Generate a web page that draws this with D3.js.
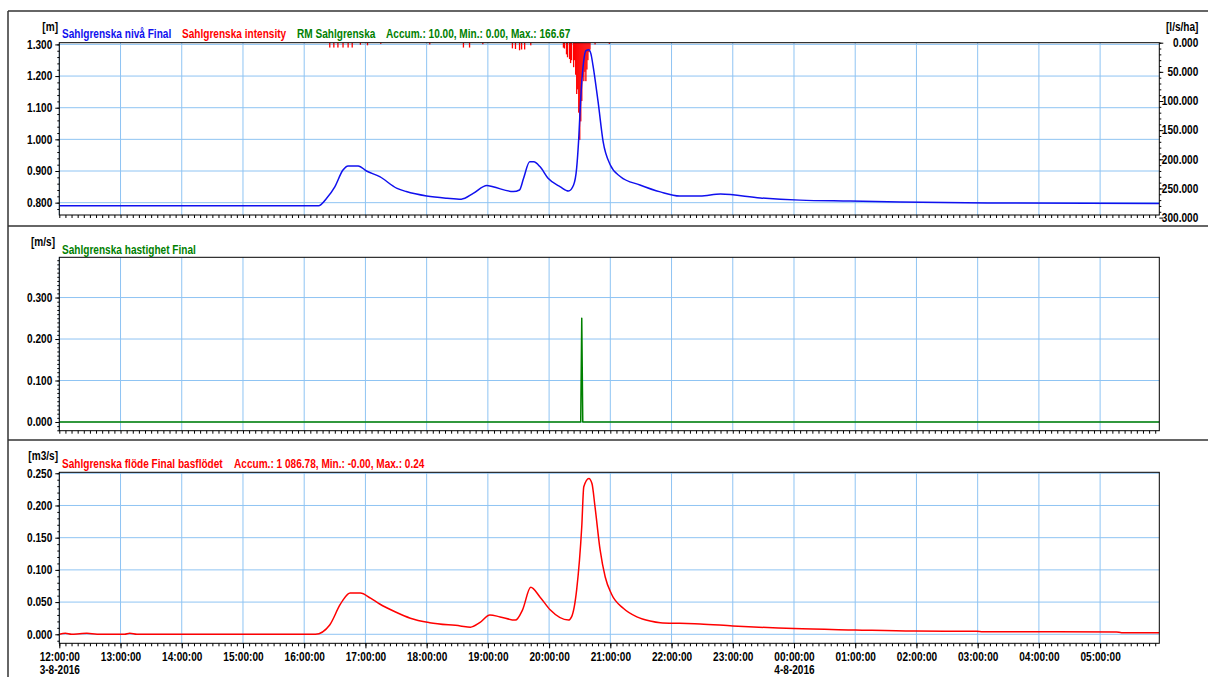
<!DOCTYPE html>
<html>
<head>
<meta charset="utf-8">
<script src="https://cdn.jsdelivr.net/npm/d3@7"></script>
<style>
body { margin: 0; background: #fff; }
text { font-family: "Liberation Sans Narrow", "Arial Narrow", "Liberation Sans", Arial, sans-serif; font-weight: bold; font-size: 12px; }
</style>
</head>
<body>
<svg id="svg" width="1208" height="677"></svg>
<script>
// times are HH:MM, 12:00 on 3-8-2016 up to about 06:00 on 4-8-2016

// Sahlgrenska nivå Final [m]
var levelTime = ["12:00","16:14","16:22","16:30","16:38","16:43","16:53","17:01","17:14","17:31","17:40","18:00",
    "18:20","18:34","18:46","18:59","19:05","19:25","19:31","19:35","19:41","19:45","19:51","19:59","20:11","20:19",
    "20:24","20:27","20:29","20:31","20:34","20:36","20:39","20:41","20:43","20:48","20:53","21:00","21:10","21:29",
    "21:49","22:08","22:28","22:48","23:27","00:06","00:55","01:44","03:22","05:58"];
var levelValue = [0.790,0.790,0.814,0.850,0.903,0.916,0.916,0.900,0.882,0.845,0.835,0.821,
    0.814,0.811,0.830,0.854,0.850,0.835,0.840,0.877,0.929,0.929,0.914,0.877,0.850,0.837,
    0.856,0.909,1.000,1.130,1.250,1.280,1.283,1.270,1.234,1.119,0.992,0.919,0.882,0.856,
    0.834,0.821,0.821,0.827,0.815,0.808,0.805,0.802,0.799,0.797];

// Sahlgrenska intensity [l/s/ha]
var rainTime = ["16:25","16:29","16:33","16:38","16:43","16:47","16:55","17:02","17:15","18:03","18:36","18:42","18:55",
    "19:24","19:27","19:31","19:33","19:36","19:42",
    "20:14","20:15","20:17","20:18","20:20","20:21","20:22","20:24","20:25","20:26","20:27","20:28","20:29","20:30",
    "20:31","20:32","20:33","20:34","20:35","20:36","20:37","20:38","20:39","20:40","20:45","20:59"];
var rainValue = [8.33,8.33,8.33,8.33,8.33,8.33,3.5,4.5,2,3,8.33,8.33,2.6,
    9.7,10.8,13,11.6,11.6,4.5,
    8.5,10,20,25,28,35,30,42,30,55,88,80,120,166.67,
    135,100,59,66,50,66,46,30,16,12,3,2];

// Sahlgrenska hastighet Final [m/s]
var speedTime = ["12:00","20:31","20:32","20:33","05:58"];
var speedValue = [0, 0, 0.25, 0, 0];

// Sahlgrenska flöde Final basflödet [m3/s]
var flowTime = ["12:00","12:06","12:12","12:20","12:27","12:37","13:04","13:09","13:16","16:11","16:25","16:35","16:38",
    "16:45","16:55","17:05","17:14","17:29","17:44","18:03","18:33","18:43","18:52","19:02","19:12","19:27","19:34",
    "19:42","19:51","20:01","20:19","20:22","20:27","20:32","20:34","20:39","20:42","20:45","20:50","20:55","21:01",
    "21:13","21:26","21:39","21:49","22:08","22:28","23:00","00:00","01:00","01:57","02:59","03:05","05:16","05:21","05:58"];
var flowValue = [0,0.0015,0,0.0008,0.0015,0,0,0.0015,0,0,0.0145,0.0455,0.053,
    0.064,0.064,0.056,0.047,0.035,0.025,0.018,0.013,0.011,0.018,0.030,0.027,0.022,0.038,
    0.073,0.058,0.038,0.022,0.027,0.069,0.167,0.229,0.242,0.234,0.198,0.131,0.089,0.063,
    0.040,0.027,0.0206,0.018,0.017,0.016,0.013,0.0088,0.0067,0.005,0.0047,0.004,0.0036,0.0025,0.0025];

var levelTicks = [0.8, 0.9, 1.0, 1.1, 1.2, 1.3];
var rainTicks = [0, 50, 100, 150, 200, 250, 300];
var speedTicks = [0, 0.1, 0.2, 0.3];
var flowTicks = [0, 0.05, 0.1, 0.15, 0.2, 0.25];

//////////////////////////////////////////////////////////////////////////////

function parseT(s)
{
    var p = s.split(":");
    var h = +p[0], m = +p[1];
    var day = h < 12 ? 4 : 3;
    return new Date(2016, 7, day, h, m);
}

function zip(ts, vs)
{
    var out = [];
    for (var i=0; i<ts.length; ++i) {
        out.push({t: parseT(ts[i]), v: vs[i]});
    }
    return out;
}

function steps(a, b, s)
{
    var out = [];
    for (var v=a; v<=b+1e-9; v+=s) out.push(+v.toFixed(4));
    return out;
}

var gridColor = "#8fc4f3";
var svg = d3.select("#svg");
var left = 59.3, right = 1159.3;

var x = d3.scaleTime()
    .domain([parseT("12:00"), parseT("05:58")])
    .range([left, right]);

var hours = d3.timeHour.range(parseT("12:00"), parseT("05:58"));

// frame lines
var frame = svg.append("g").attr("stroke", "#333").attr("stroke-width", 1.5);
frame.append("line").attr("x1", 8).attr("x2", 1208).attr("y1", 11).attr("y2", 11);
frame.append("line").attr("x1", 8).attr("x2", 8).attr("y1", 11).attr("y2", 677);
frame.append("line").attr("x1", 8).attr("x2", 1208).attr("y1", 226).attr("y2", 226);
frame.append("line").attr("x1", 8).attr("x2", 1208).attr("y1", 440).attr("y2", 440);

function panel(top, bottom, dom, ticks, minorStep, id)
{
    var y = d3.scaleLinear().domain(dom).range([bottom, top]);
    var g = svg.append("g");

    svg.append("clipPath").attr("id", id).append("rect")
        .attr("x", left).attr("y", top).attr("width", right - left).attr("height", bottom - top);

    g.selectAll(".hg").data(ticks).enter().append("line")
        .attr("x1", left).attr("x2", right)
        .attr("y1", function(d) { return y(d); }).attr("y2", function(d) { return y(d); })
        .attr("stroke", gridColor).attr("stroke-width", 1);
    g.selectAll(".vg").data(hours).enter().append("line")
        .attr("x1", function(d) { return x(d); }).attr("x2", function(d) { return x(d); })
        .attr("y1", top).attr("y2", bottom)
        .attr("stroke", gridColor).attr("stroke-width", 1);

    var minor = steps(Math.ceil(dom[0] / minorStep) * minorStep, dom[1], minorStep);
    g.append("g").attr("transform", "translate(" + left + ",0)")
        .call(d3.axisLeft(y).tickValues(minor).tickSize(2).tickFormat(""))
        .call(function(s) { s.select(".domain").remove(); });
    g.append("g").attr("transform", "translate(" + left + ",0)")
        .call(d3.axisLeft(y).tickValues(ticks).tickSize(4).tickSizeOuter(0).tickFormat(d3.format(".3f")))
        .call(function(s) { s.select(".domain").remove(); s.selectAll("text").attr("fill", "#000"); });

    g.append("g").attr("transform", "translate(0," + bottom + ")")
        .call(d3.axisBottom(x).ticks(d3.timeMinute.every(6)).tickSize(3).tickFormat(""))
        .call(function(s) { s.select(".domain").remove(); });

    return {y: y, g: g, top: top, bottom: bottom};
}

function border(p)
{
    svg.append("rect").attr("x", left).attr("y", p.top)
        .attr("width", right - left).attr("height", p.bottom - p.top)
        .attr("fill", "none").attr("stroke", "#000").attr("stroke-width", 1);
}

function drawLine(p, data, color, clip, curve)
{
    var line = d3.line()
        .curve(curve || d3.curveLinear)
        .x(function(d) { return x(d.t); })
        .y(function(d) { return p.y(d.v); });
    svg.append("path").datum(data)
        .attr("clip-path", "url(#" + clip + ")")
        .attr("d", line).attr("fill", "none")
        .attr("stroke", color).attr("stroke-width", 1.5)
        .attr("stroke-linejoin", "round");
}

function label(xp, yp, txt, color, size, anchor)
{
    svg.append("text").attr("x", xp).attr("y", yp)
        .attr("fill", color).attr("font-size", size || 12)
        .attr("text-anchor", anchor || "start").text(txt);
}

// ---- top panel: level + rain intensity
var p1 = panel(42.7, 215, [0.761, 1.3054], levelTicks, 0.02, "c1");
var yRain = d3.scaleLinear().domain([0, 300]).range([42.7, 217.6]);

var rain = zip(rainTime, rainValue);
svg.append("g").attr("clip-path", "url(#c1)").selectAll("rect").data(rain).enter().append("rect")
    .attr("x", function(d) { return x(d.t) - 0.6; })
    .attr("y", yRain(0))
    .attr("width", 1.3)
    .attr("height", function(d) { return yRain(d.v) - yRain(0); })
    .attr("fill", "#ff0000");

drawLine(p1, zip(levelTime, levelValue), "#1010ee", "c1", d3.curveMonotoneX);
border(p1);

svg.append("g").attr("transform", "translate(" + right + ",0)")
    .call(d3.axisRight(yRain).tickValues(steps(0, 290, 10)).tickSize(2).tickFormat(""))
    .call(function(s) { s.select(".domain").remove(); });
svg.append("g").attr("transform", "translate(" + right + ",0)")
    .call(d3.axisRight(yRain).tickValues(rainTicks).tickSize(4).tickFormat(d3.format(".3f")))
    .call(function(s) {
        s.select(".domain").remove();
        s.selectAll("text").attr("fill", "#000").attr("text-anchor", "end").attr("x", 39);
    });

label(58, 31, "[m]", "#000", 11, "end");
label(1166, 31, "[l/s/ha]", "#000", 11);
label(62, 38, "Sahlgrenska nivå Final", "#1010ee");
label(182, 38, "Sahlgrenska intensity", "#ff0000");
label(297, 38, "RM Sahlgrenska", "#008000");
label(386, 38, "Accum.: 10.00, Min.: 0.00, Max.: 166.67", "#008000");

// ---- middle panel: speed
var p2 = panel(257.3, 430.7, [-0.021, 0.397], speedTicks, 0.01, "c2");
drawLine(p2, zip(speedTime, speedValue), "#008000", "c2");
border(p2);
label(55, 246, "[m/s]", "#000", 11, "end");
label(62, 253.5, "Sahlgrenska hastighet Final", "#008000");

// ---- bottom panel: flow
var p3 = panel(472.3, 643.3, [-0.014, 0.2515], flowTicks, 0.01, "c3");
drawLine(p3, zip(flowTime, flowValue), "#ff0000", "c3", d3.curveMonotoneX);
border(p3);
label(58, 460, "[m3/s]", "#000", 11, "end");
label(62, 467.5, "Sahlgrenska flöde Final basflödet", "#ff0000");
label(234, 467.5, "Accum.: 1 086.78, Min.: -0.00, Max.: 0.24", "#ff0000");

var fmtH = d3.timeFormat("%H:%M:%S");
var fmtD = d3.timeFormat("%-d-%-m-%Y");
var xAx = svg.append("g").attr("transform", "translate(0,643.3)")
    .call(d3.axisBottom(x).tickValues(hours).tickSize(5).tickFormat(fmtH))
    .call(function(s) { s.select(".domain").remove(); s.selectAll("text").attr("fill", "#000").attr("y", 9); });
xAx.selectAll(".tick").filter(function(d) { return d.getHours() == 0 || d.getHours() == 12; })
    .append("text").attr("fill", "#000").attr("y", 22).attr("dy", "0.71em")
    .text(function(d) { return fmtD(d); });
svg.selectAll(".tick text").style("font-weight", "bold");

// no narrow font here, so squeeze the text sideways instead
svg.selectAll("text").each(function() {
    var t = d3.select(this);
    var xx = +t.attr("x") || 0, yy = +t.attr("y") || 0;
    t.attr("x", null).attr("y", null)
        .attr("transform", "translate(" + xx + "," + yy + ") scale(0.84,1)");
});
</script>
</body>
</html>
